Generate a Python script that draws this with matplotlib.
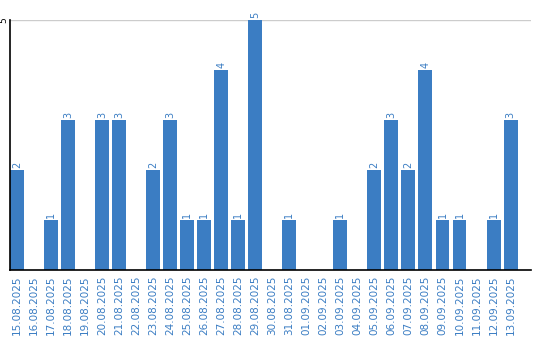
import matplotlib.pyplot as plt

# dados do gráfico
datas = ['15.08.2025', '16.08.2025', '17.08.2025', '18.08.2025', '19.08.2025',
         '20.08.2025', '21.08.2025', '22.08.2025', '23.08.2025', '24.08.2025',
         '25.08.2025', '26.08.2025', '27.08.2025', '28.08.2025', '29.08.2025',
         '30.08.2025', '31.08.2025', '01.09.2025', '02.09.2025', '03.09.2025',
         '04.09.2025', '05.09.2025', '06.09.2025', '07.09.2025', '08.09.2025',
         '09.09.2025', '10.09.2025', '11.09.2025', '12.09.2025', '13.09.2025']
valores = [2, 0, 1, 3, 0, 3, 3, 0, 2, 3, 1, 1, 4, 1, 5,
           0, 1, 0, 0, 1, 0, 2, 3, 2, 4, 1, 1, 0, 1, 3]

azul = '#3b7dc3'

fig = plt.figure(figsize=(5.4, 3.4), dpi=100)
ax = fig.add_axes([10/540, 70/340, 521/540, 250/340])

x = list(range(len(datas)))
ax.bar(x, valores, width=0.82, color=azul, zorder=2)

# rótulos em cima das barras
for xi, v in zip(x, valores):
    if v > 0:
        ax.text(xi, v + 0.04, str(v), rotation=90, ha='center', va='bottom',
                fontsize=7, color=azul, clip_on=False)

# barras começam encostadas no eixo
ax.set_xlim(-0.41, 30.2)
ax.set_ylim(0, 5)
ax.set_yticks([5])
ax.set_yticklabels(['5'], rotation=90, fontsize=6.5, va='center')
ax.tick_params(axis='y', length=0, pad=1)
ax.yaxis.grid(True, color='#cccccc', linewidth=1, zorder=0)

ax.set_xticks(x)
ax.set_xticklabels(datas, rotation=90, fontsize=7.5, color=azul)
ax.tick_params(axis='x', length=0, pad=4)

for lado in ['top', 'right']:
    ax.spines[lado].set_visible(False)
ax.spines['left'].set_color('black')
ax.spines['bottom'].set_color('black')
ax.spines['left'].set_linewidth(1.2)
ax.spines['bottom'].set_linewidth(1.2)

fig.savefig('out.png', dpi=100)
